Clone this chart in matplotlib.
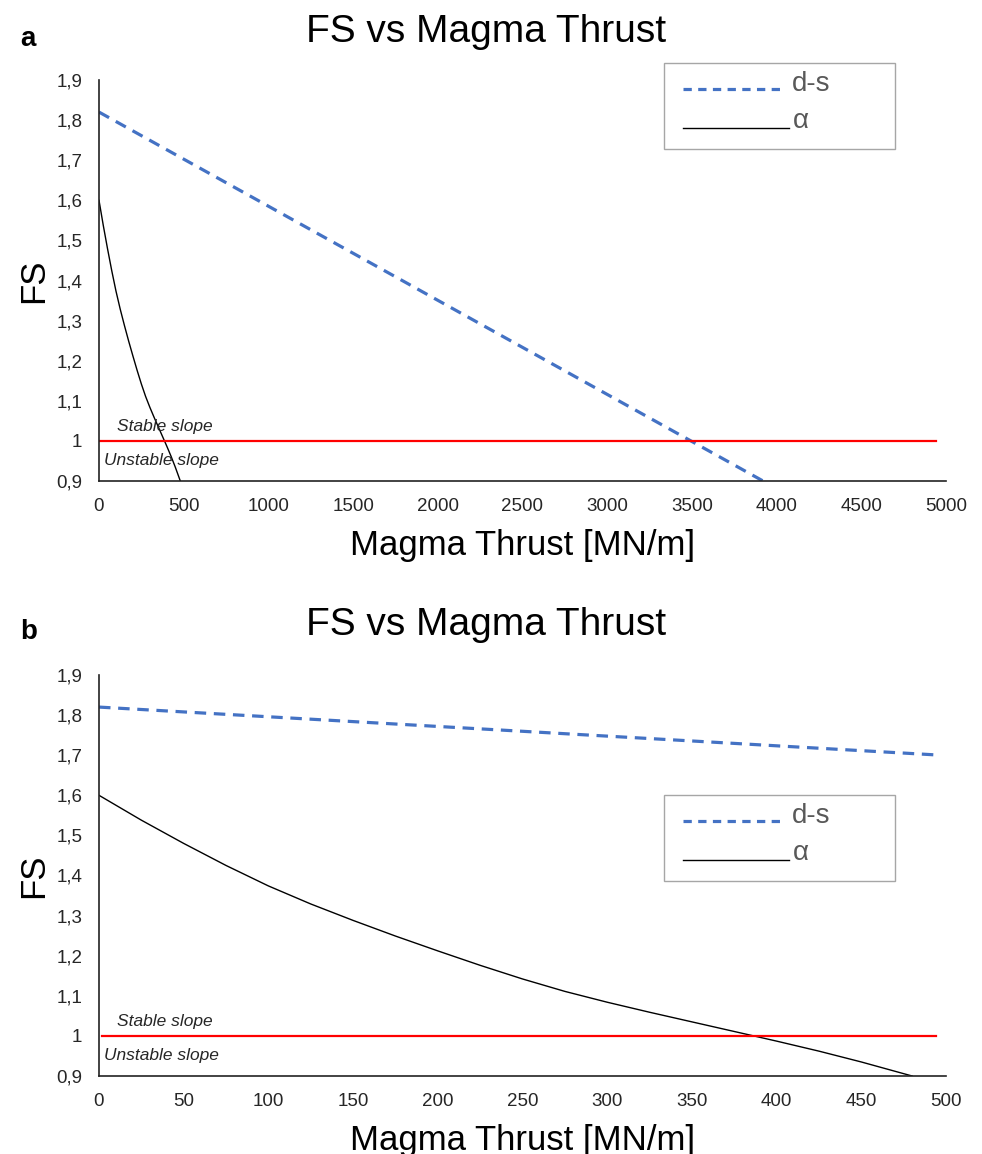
import matplotlib
matplotlib.use("Agg")
import matplotlib.pyplot as plt
from matplotlib.lines import Line2D
from matplotlib.patches import Rectangle

plt.rcParams['font.family'] = ['Liberation Sans', 'DejaVu Sans']

# ---- data ----
ds_a_x = [0, 3920]
ds_a_y = [1.82, 0.90]
ds_b_x = [0, 497]
ds_b_y = [1.82, 1.70]

alpha_x = [0, 25, 50, 75, 100, 125, 150, 175, 200, 225, 250, 275, 300, 325, 350, 375, 400, 425, 450, 480]
alpha_y = [1.600, 1.538, 1.480, 1.425, 1.374, 1.329, 1.288, 1.249, 1.212, 1.176, 1.142, 1.111,
           1.084, 1.059, 1.035, 1.011, 0.987, 0.962, 0.935, 0.900]

limit_a_x = [5, 4940]
limit_b_x = [2, 494]
limit_y = [1.0, 1.0]

yticks = [0.9, 1.0, 1.1, 1.2, 1.3, 1.4, 1.5, 1.6, 1.7, 1.8, 1.9]
ytick_labels = ["0,9", "1", "1,1", "1,2", "1,3", "1,4", "1,5", "1,6", "1,7", "1,8", "1,9"]
xticks_a = [0, 500, 1000, 1500, 2000, 2500, 3000, 3500, 4000, 4500, 5000]
xticks_b = [0, 50, 100, 150, 200, 250, 300, 350, 400, 450, 500]

title = "FS vs Magma Thrust"
xlabel = "Magma Thrust [MN/m]"
ylabel = "FS"
legend_labels = ["d-s", "\u03b1"]

W, H = 982, 1154
fig = plt.figure(figsize=(W / 100, H / 100), dpi=100)

blue = "#4472C4"
txt = "#262626"


def fx(px):
    return px / W


def fy(py):
    return 1 - py / H


def draw_legend(dy):
    fig.patches.append(Rectangle((fx(664), fy(149 + dy)), fx(895) - fx(664), fy(63 + dy) - fy(149 + dy),
                                 transform=fig.transFigure, fill=False, edgecolor="#A6A6A6", lw=1.0))
    fig.lines.append(Line2D([fx(683), fx(780)], [fy(89 + dy), fy(89 + dy)], transform=fig.transFigure,
                            color=blue, lw=2.3, dashes=(2.6, 2.0)))
    fig.lines.append(Line2D([fx(683), fx(789)], [fy(128 + dy), fy(128 + dy)], transform=fig.transFigure,
                            color="black", lw=1.0))
    fig.text(fx(792), fy(91 + dy), legend_labels[0], fontsize=20, color="#595959", ha="left", va="baseline")
    fig.text(fx(793), fy(128 + dy), legend_labels[1], fontsize=20, color="#595959", ha="left", va="baseline")


def make_axes(top_px, bottom_px, xmax, xticks, ds_x, ds_y, lim_x, leg_dy, panel, title_base_px):
    left_px, right_px = 99, 946
    ax = fig.add_axes([left_px / W, 1 - bottom_px / H, (right_px - left_px) / W, (bottom_px - top_px) / H])
    ax.plot(ds_x, ds_y, color=blue, lw=2.3, dashes=(3.6, 2.4), solid_capstyle='butt', dash_capstyle='butt')
    ax.plot(alpha_x, alpha_y, color="black", lw=1.0)
    ax.plot(lim_x, limit_y, color="#FF0000", lw=1.6)
    ax.set_xlim(0, xmax)
    ax.set_ylim(0.9, 1.9)
    ax.set_yticks(yticks)
    ax.set_yticklabels(ytick_labels)
    ax.set_xticks(xticks)
    ax.tick_params(length=0, labelsize=13.5, colors=txt, pad=12)
    for s in ["top", "right"]:
        ax.spines[s].set_visible(False)
    for s in ["left", "bottom"]:
        ax.spines[s].set_color("#222222")
        ax.spines[s].set_linewidth(1.2)
    ax.set_xlabel(xlabel, fontsize=25, labelpad=10, color="black")
    ax.set_ylabel(ylabel, fontsize=25, color="black")
    ax.yaxis.set_label_coords(-0.058, 0.5)
    ax.text(0.021, 0.137, "Stable slope", transform=ax.transAxes, fontsize=12.5,
            style="italic", color=txt, va="center", ha="left")
    ax.text(0.006, 0.052, "Unstable slope", transform=ax.transAxes, fontsize=12.5,
            style="italic", color=txt, va="center", ha="left")
    draw_legend(leg_dy)
    fig.text(486 / W, 1 - title_base_px / H, title, fontsize=28, ha="center", va="baseline", color="black")
    fig.text(20 / W, 1 - (title_base_px + 4) / H, panel, fontsize=20, fontweight="bold", ha="left", va="baseline")
    return ax


make_axes(80, 481, 5000, xticks_a, ds_a_x, ds_a_y, limit_a_x, 0, "a", 42)
make_axes(675, 1076, 500, xticks_b, ds_b_x, ds_b_y, limit_b_x, 732, "b", 635)

fig.savefig("out.png", dpi=100, facecolor="white")
